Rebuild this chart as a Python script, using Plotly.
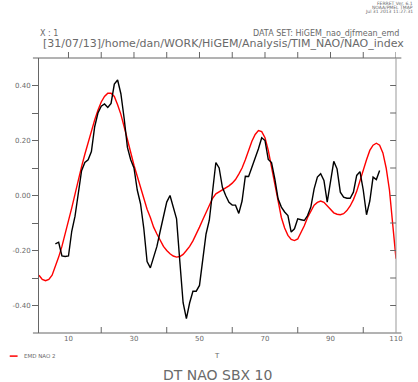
import plotly.graph_objects as go

# Black series (DT NAO), x = 6..105
black_x = list(range(6, 106))
black_y = [-0.176, -0.17, -0.22, -0.222, -0.22, -0.13, -0.075, 0.0, 0.09, 0.12,
           0.13, 0.16, 0.25, 0.30, 0.325, 0.333, 0.32, 0.335, 0.405, 0.42,
           0.37, 0.28, 0.175, 0.13, 0.10, 0.02, -0.03, -0.12, -0.24, -0.263,
           -0.22, -0.185, -0.13, -0.08, -0.024, 0.0, -0.048, -0.085, -0.24, -0.39,
           -0.448, -0.39, -0.348, -0.348, -0.327, -0.23, -0.14, -0.09, 0.02, 0.12,
           0.10, 0.03, 0.0, -0.025, -0.035, -0.035, -0.065, -0.02, 0.07, 0.069,
           0.103, 0.133, 0.17, 0.21, 0.20, 0.131, 0.12, 0.06, -0.012, -0.042,
           -0.06, -0.073, -0.133, -0.121, -0.085, -0.088, -0.091, -0.073, -0.042, 0.024,
           0.067, 0.079, 0.055, -0.024, 0.048, 0.124, 0.097, 0.012, -0.006, -0.01,
           -0.01, 0.012, 0.073, 0.087, 0.02, -0.07, -0.02, 0.067, 0.058, 0.091]

# Red series (EMD NAO 2), x = 1..110
red_x = list(range(1, 111))
red_y = [-0.29, -0.305, -0.31, -0.305, -0.29, -0.26, -0.224, -0.185, -0.14, -0.097,
         -0.045, 0.005, 0.058, 0.105, 0.15, 0.195, 0.236, 0.275, 0.31, 0.34,
         0.36, 0.372, 0.372, 0.36, 0.33, 0.295, 0.25, 0.2, 0.15, 0.11,
         0.07, 0.03, -0.01, -0.05, -0.08, -0.115, -0.14, -0.165, -0.185, -0.2,
         -0.212, -0.22, -0.224, -0.222, -0.214, -0.2, -0.185, -0.165, -0.142, -0.115,
         -0.088, -0.06, -0.033, -0.01, 0.006, 0.013, 0.018, 0.025, 0.035, 0.045,
         0.058, 0.078, 0.1, 0.13, 0.163, 0.197, 0.222, 0.236, 0.232, 0.21,
         0.164, 0.105, 0.045, -0.02, -0.08, -0.118, -0.145, -0.16, -0.164, -0.158,
         -0.135, -0.11, -0.08, -0.058, -0.035, -0.025, -0.02, -0.025, -0.037, -0.052,
         -0.063, -0.068, -0.07, -0.066, -0.055, -0.038, -0.015, 0.015, 0.055, 0.09,
         0.13, 0.164, 0.183, 0.19, 0.183, 0.155, 0.1, 0.02, -0.1, -0.23]

x_label_vals = [10, 30, 50, 70, 90, 110]
x_inner_ticks = [20, 40, 60, 80, 100]
x_top_ticks = list(range(10, 111, 10))
y_tick_vals = [-0.4, -0.3, -0.2, -0.1, 0.0, 0.1, 0.2, 0.3, 0.4]
y_tick_text = ["-0.40", "", "-0.20", "", "0.00", "", "0.20", "", "0.40"]

AX = "#666666"
TXT = "#6a6a6a"
FONT = "DejaVu Sans"

W, H = 418, 382
ML, MR, MT, MB = 30, 21.5, 57.5, 49
pw, ph = W - ML - MR, H - MT - MB

fig = go.Figure()
fig.add_trace(go.Scatter(x=red_x, y=red_y, mode="lines",
                         line=dict(color="#ff0000", width=1.4), showlegend=False))
fig.add_trace(go.Scatter(x=black_x, y=black_y, mode="lines",
                         line=dict(color="#000000", width=1.4), showlegend=False))

fig.update_layout(
    width=W, height=H,
    margin=dict(l=ML, r=MR, t=MT, b=MB),
    paper_bgcolor="white", plot_bgcolor="white",
    font=dict(family=FONT, color=TXT, size=8),
    xaxis=dict(range=[1, 110], tickvals=x_label_vals, ticks="",
               showgrid=False, zeroline=False, showline=False,
               tickfont=dict(size=7, color=TXT, family=FONT)),
    yaxis=dict(range=[-0.5, 0.5], tickvals=y_tick_vals, ticktext=y_tick_text,
               ticks="outside", ticklen=6, tickwidth=1, tickcolor=AX,
               showline=True, linecolor=AX, linewidth=1,
               showgrid=False, zeroline=False,
               tickfont=dict(size=7, color=TXT, family=FONT)),
)

tick_line = dict(color=AX, width=1)
# extended top/bottom axis lines
for yy in (0, 1):
    fig.add_shape(type="line", xref="paper", yref="paper", x0=-0.017, x1=1.015,
                  y0=yy, y1=yy, line=tick_line)
# right axis line
fig.add_shape(type="line", xref="paper", yref="paper", x0=1, x1=1, y0=0, y1=1,
              line=dict(color="#999999", width=1))
# top ticks (outside, every 10)
for v in x_top_ticks:
    fig.add_shape(type="line", xref="x", yref="paper", x0=v, x1=v,
                  y0=1, y1=1 + 6 / ph, line=tick_line)
# bottom inner ticks
for v in x_inner_ticks:
    fig.add_shape(type="line", xref="x", yref="paper", x0=v, x1=v,
                  y0=0, y1=6 / ph, line=tick_line)
# right inner ticks
for v in y_tick_vals:
    fig.add_shape(type="line", xref="paper", yref="y", x0=1 - 6 / pw, x1=1,
                  y0=v, y1=v, line=tick_line)

# legend sample
fig.add_shape(type="line", xref="paper", yref="paper", x0=-0.082, x1=-0.06,
              y0=-0.084, y1=-0.084, line=dict(color="#ff0000", width=1.5))

ann = [
    dict(text="EMD NAO 2", x=13, y=356, size=5.5, xanchor="left"),
    dict(text="T", x=213, y=356, size=7, xanchor="center"),
    dict(text="DT NAO SBX 10", x=213, y=375, size=14, xanchor="center"),
    dict(text="[31/07/13]/home/dan/WORK/HiGEM/Analysis/TIM_NAO/NAO_index",
         x=219, y=43, size=11, xanchor="center"),
    dict(text="X : 1", x=29, y=33, size=8, xanchor="left"),
    dict(text="DATA SET: HiGEM_nao_djfmean_emd", x=402, y=33, size=8, xanchor="right"),
    dict(text="FERRET Ver. 6.1", x=416, y=3, size=4.5, xanchor="right"),
    dict(text="NOAA/PMEL TMAP", x=416, y=7, size=4.5, xanchor="right"),
    dict(text="Jul 31 2013 11:27:31", x=416, y=11, size=4.5, xanchor="right"),
]
for a in ann:
    fig.add_annotation(text=a["text"], xref="paper", yref="paper",
                       x=(a["x"] - ML) / pw, y=(H - MB - a["y"]) / ph,
                       xanchor=a["xanchor"], yanchor="middle", showarrow=False,
                       font=dict(size=a["size"], color=TXT, family=FONT))

fig.write_html("out.html", config={"displayModeBar": False},
               post_script="document.body.style.margin='0';document.body.style.overflow='hidden';")
